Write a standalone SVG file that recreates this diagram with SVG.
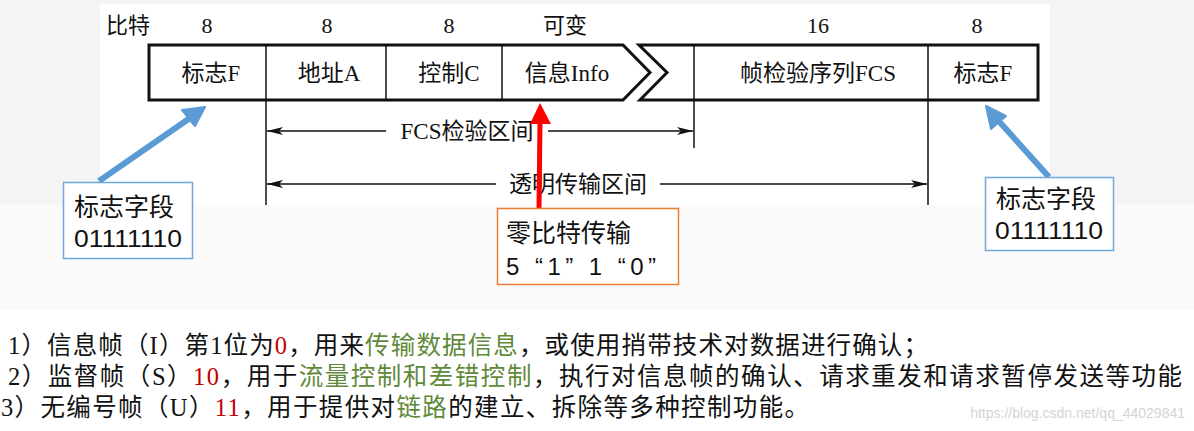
<svg xmlns="http://www.w3.org/2000/svg" width="1194" height="431" viewBox="0 0 1194 431">
<style>
.serif{font-family:"Liberation Serif","Noto Sans CJK SC",serif;font-size:23px;fill:#111}
.cjk{font-family:"Noto Sans CJK SC","Liberation Serif",serif;font-size:22px;fill:#111}
.hdr{font-family:"Liberation Serif","Noto Sans CJK SC",serif;font-size:22px;fill:#111}
.frame{fill:none;stroke:#111;stroke-width:3}
.div{stroke:#111;stroke-width:1.5;fill:none}
.dim{stroke:#111;stroke-width:1.5;fill:none}
.box{font-family:"Noto Sans CJK SC",sans-serif;font-size:25px;fill:#111}
.num{font-family:"Liberation Sans",sans-serif;font-size:24px;fill:#111}
.body{font-family:"Liberation Serif","Noto Sans CJK SC",serif;font-size:24.5px;fill:#111}
.red{fill:#c00000}
.green{fill:#5f8a3a}
</style>
<defs>
<marker id="ah" viewBox="0 0 16 8" refX="16" refY="4" markerWidth="16" markerHeight="8" markerUnits="userSpaceOnUse" orient="auto-start-reverse">
<path d="M0,0 L16,4 L0,8 L4,4 Z" fill="#111"/>
</marker>
</defs>
<rect width="1194" height="431" fill="#fafafa"/>
<rect x="0" y="0" width="1194" height="205" fill="#f4f4f4"/>
<rect x="100" y="4" width="950" height="201" fill="#ffffff"/>
<rect x="0" y="310" width="1194" height="121" fill="#ffffff"/>

<g id="header">
<text x="106" y="33" class="cjk">比特</text>
<text x="207" y="33" class="hdr" text-anchor="middle">8</text>
<text x="327" y="33" class="hdr" text-anchor="middle">8</text>
<text x="449" y="33" class="hdr" text-anchor="middle">8</text>
<text x="565" y="33" class="cjk" text-anchor="middle">可变</text>
<text x="818" y="33" class="hdr" text-anchor="middle">16</text>
<text x="977" y="33" class="hdr" text-anchor="middle">8</text>
</g>

<g id="frame">
<path class="frame" d="M149,45 H623 L650,72.5 L623,100 H149 Z"/>
<path class="frame" d="M639,45 H1038 V100 H640 L667,72.5 Z"/>
<line class="div" x1="266" y1="45" x2="266" y2="205"/>
<line class="div" x1="386" y1="45" x2="386" y2="100"/>
<line class="div" x1="502" y1="45" x2="502" y2="100"/>
<line class="div" x1="694" y1="45" x2="694" y2="148"/>
<line class="div" x1="928" y1="45" x2="928" y2="205"/>
</g>
<g id="fields">
<text x="211" y="81" class="serif" text-anchor="middle">标志F</text>
<text x="329" y="81" class="serif" text-anchor="middle">地址A</text>
<text x="449" y="81" class="serif" text-anchor="middle">控制C</text>
<text x="567" y="81" class="serif" text-anchor="middle">信息Info</text>
<text x="818" y="81" class="serif" text-anchor="middle">帧检验序列FCS</text>
<text x="983" y="81" class="serif" text-anchor="middle">标志F</text>
</g>

<g id="connectors">
<line class="dim" x1="386" y1="131" x2="267" y2="131" marker-end="url(#ah)"/>
<line class="dim" x1="548" y1="131" x2="693" y2="131" marker-end="url(#ah)"/>
<line class="dim" x1="496" y1="184" x2="267" y2="184" marker-end="url(#ah)"/>
<line class="dim" x1="660" y1="184" x2="927" y2="184" marker-end="url(#ah)"/>
<text x="467" y="139" class="serif" font-size="24" text-anchor="middle">FCS检验区间</text>
<text x="578" y="192" class="serif" font-size="24" text-anchor="middle">透明传输区间</text>

<line x1="99" y1="181" x2="190" y2="118" stroke="#5b9bd5" stroke-width="6"/>
<path d="M205,107 L182,110 L195,126 Z" fill="#5b9bd5" stroke="#5b9bd5" stroke-width="2" stroke-linejoin="round"/>
<line x1="1049" y1="177" x2="997" y2="119" stroke="#5b9bd5" stroke-width="6"/>
<path d="M986,106 L991,129 L1006,116 Z" fill="#5b9bd5" stroke="#5b9bd5" stroke-width="2" stroke-linejoin="round"/>
<line x1="539" y1="208" x2="540" y2="121" stroke="#ff0000" stroke-width="5"/>
<path d="M540,103 L530,124 L551,124 Z" fill="#ff0000"/>
</g>

<g id="flag-left">
<rect x="63.5" y="182.5" width="129" height="76" fill="#ffffff" stroke="#6fa8dc" stroke-width="1.5"/>
<text x="74" y="216" class="box">标志字段</text>
<text x="74" y="247" class="num" textLength="108" lengthAdjust="spacingAndGlyphs">01111110</text>
</g>
<g id="flag-right">
<rect x="985.5" y="177.5" width="128" height="73" fill="#ffffff" stroke="#6fa8dc" stroke-width="1.5"/>
<text x="996" y="208" class="box">标志字段</text>
<text x="995" y="239" class="num" textLength="108" lengthAdjust="spacingAndGlyphs">01111110</text>
</g>
<g id="zero-bit">
<rect x="497.5" y="208.5" width="181" height="76" fill="#ffffff" stroke="#ed7d31" stroke-width="1.5"/>
<text x="506" y="242" class="box" font-size="26">零比特传输</text>
<text x="506" y="275" class="num" font-size="26" textLength="150" lengthAdjust="spacing" xml:space="preserve">5 “1” 1 “0”</text>
</g>

<g id="notes">
<text x="8" y="354" class="body" textLength="920" lengthAdjust="spacing">1）信息帧（I）第1位为<tspan class="red">0</tspan>，用来<tspan class="green">传输数据信息</tspan>，或使用捎带技术对数据进行确认；</text>
<text x="8" y="385" class="body" textLength="1174" lengthAdjust="spacing">2）监督帧（S）<tspan class="red">10</tspan>，用于<tspan class="green">流量控制和差错控制</tspan>，执行对信息帧的确认、请求重发和请求暂停发送等功能</text>
<text x="1" y="416" class="body" textLength="808" lengthAdjust="spacing">3）无编号帧（U）<tspan class="red">11</tspan>，用于提供对<tspan class="green">链路</tspan>的建立、拆除等多种控制功能。</text>
<text x="1185" y="418" text-anchor="end" font-family="Liberation Sans, sans-serif" font-size="14" fill="#d4d4d4">https://blog.csdn.net/qq_44029841</text>
</g>
</svg>
